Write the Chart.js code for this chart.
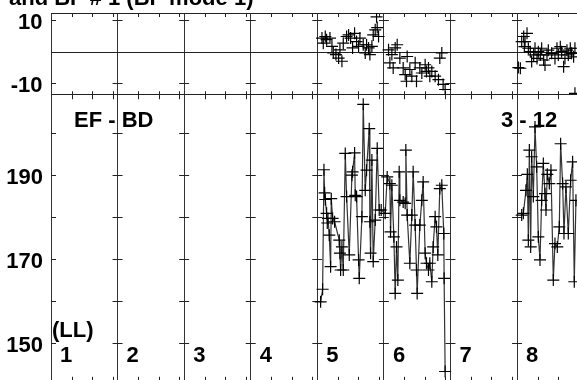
<!DOCTYPE html>
<html lang="en">
<head>
  <meta charset="UTF-8">
  <title>EF - BD</title>
  <script src="https://cdn.jsdelivr.net/npm/chart.js"></script>
  <style>
    html, body { margin: 0; padding: 0; overflow: hidden; background: #fff; }
    #c { display: block; }
  </style>
</head>
<body>
  <canvas id="c" width="600" height="390"></canvas>

  <script>
    // upper panel (scatter only)
    const top5X = [5.07, 5.09, 5.12, 5.14, 5.19, 5.22, 5.24, 5.28, 5.32, 5.34, 5.37, 5.39, 5.44, 5.47, 5.50, 5.53, 5.56, 5.59, 5.62, 5.64, 5.69, 5.69, 5.72, 5.74, 5.77, 5.79, 5.82, 5.84, 5.87, 5.89, 5.90, 5.92];
    const top5Y = [4.3, 2.7, 4.8, 3.8, 4.3, 1.7, -0.4, -0.9, -2.0, 0.6, -3.0, 2.7, 4.8, 5.3, 4.3, 1.2, 5.8, 3.2, 1.7, 4.3, 2.2, -16.3, -0.4, 2.2, 1.2, -0.9, 1.7, 5.3, 6.9, 11.0, 7.6, 4.8];
    const top6X = [6.07, 6.09, 6.12, 6.14, 6.17, 6.20, 6.24, 6.29, 6.32, 6.34, 6.35, 6.39, 6.42, 6.47, 6.49, 6.54, 6.57, 6.62, 6.64, 6.67, 6.69, 6.72, 6.77, 6.82, 6.84, 6.87, 6.89, 6.92];
    const top6Y = [0.6, -3.5, -0.9, -5.1, 1.2, 2.2, -2.0, -5.1, -7.2, -9.3, -1.5, -5.6, -7.7, -3.5, -9.3, -5.1, -6.7, -4.1, -6.2, -5.1, -7.7, -6.2, -7.7, -8.8, -2.0, -0.4, -10.3, -11.9];
    const top8X = [8.02, 8.05, 8.07, 8.10, 8.11, 8.12, 8.15, 8.17, 8.20, 8.22, 8.25, 8.27, 8.30, 8.32, 8.35, 8.37, 8.40, 8.42, 8.45, 8.47, 8.52, 8.57, 8.60, 8.62, 8.65, 8.67, 8.70, 8.72, 8.75, 8.77, 8.80, 8.82, 8.85, 8.87, 8.87];
    const top8Y = [-5.0, -5.2, 3.2, 4.8, 1.6, 3.2, 5.8, 1.1, 0.0, -3.1, -1.0, 1.1, -2.1, 0.0, -1.0, 1.1, -2.6, -4.2, -1.0, 0.5, -0.5, -2.1, 1.1, -1.0, 1.6, 0.0, -4.7, -2.1, 0.5, -1.0, 1.1, -0.5, -1.6, 1.1, -13.1];

    // lower panel (line + crosses)
    const bot56X = [5.05, 5.08, 5.10, 5.11, 5.12, 5.14, 5.15, 5.16, 5.18, 5.20, 5.21, 5.23, 5.26, 5.33, 5.34, 5.35, 5.37, 5.39, 5.42, 5.44, 5.48, 5.52, 5.53, 5.56, 5.57, 5.59, 5.62, 5.63, 5.67, 5.69, 5.72, 5.74, 5.78, 5.79, 5.80, 5.82, 5.84, 5.87, 5.90, 5.93, 5.96,
                    6.02, 6.05, 6.09, 6.10, 6.12, 6.15, 6.17, 6.19, 6.21, 6.23, 6.24, 6.29, 6.32, 6.33, 6.35, 6.39, 6.42, 6.44, 6.47, 6.49, 6.50, 6.54, 6.57, 6.59, 6.62, 6.64, 6.67, 6.69, 6.72, 6.74, 6.77, 6.79, 6.81, 6.84, 6.87, 6.90, 6.905, 6.92];
    const bot56Y = [159.8, 162.8, 191.3, 185.8, 184.2, 180.9, 178.6, 179.7, 175.7, 168.2, 184.4, 179.7, 178.9, 174.5, 171.4, 167.4, 172.9, 167.4, 195.2, 184.9, 171.0, 190.0, 190.8, 195.3, 185.2, 184.9, 169.8, 165.4, 180.1, 206.9, 186.4, 191.2, 201.1, 178.9, 171.4, 193.6, 169.4, 179.3, 196.4, 181.7, 181.7,
                    180.9, 189.6, 188.0, 176.5, 187.6, 175.3, 161.8, 172.9, 165.0, 190.8, 184.0, 183.6, 183.3, 196.0, 180.5, 169.0, 180.5, 190.8, 178.1, 167.4, 161.8, 178.1, 184.0, 188.4, 171.4, 169.0, 167.4, 169.0, 164.6, 172.9, 180.1, 177.7, 171.0, 186.8, 187.6, 176.1, 165.4, 143.2];
    const bot8X = [8.07, 8.095, 8.135, 8.155, 8.17, 8.185, 8.205, 8.22, 8.245, 8.27, 8.295, 8.32, 8.345, 8.37, 8.395, 8.42, 8.435, 8.455, 8.485, 8.51, 8.545, 8.57, 8.605, 8.635, 8.655, 8.685, 8.705, 8.735, 8.77, 8.805, 8.835, 8.86, 8.885];
    const bot8Y = [180.5, 180.9, 186.4, 190.2, 174.5, 196.0, 172.9, 194.4, 184.9, 201.5, 192.0, 175.3, 169.8, 184.0, 192.8, 185.6, 181.7, 190.2, 188.0, 191.2, 165.0, 173.7, 172.9, 177.7, 197.5, 188.0, 176.1, 187.2, 176.1, 188.8, 193.2, 164.6, 184.0];

    const days = [1, 2, 3, 4, 5, 6, 7, 8];
    const dayLabels = ['1', '2', '3', '4', '5', '6', '7', '8'];
    const topTicks = [10, 0, -10];
    const topLabels = [10, -10];
    const botTicks = [200, 190, 180, 170, 160, 150];
    const botLabels = [190, 170, 150];

    const pts = (xs, ys) => xs.map((x, i) => ({ x: x, y: ys[i] }));
    const FONT = 'bold 22px "Liberation Sans", Arial, sans-serif';

    const framePlugin = {
      id: 'frame',
      beforeDatasetsDraw(chart) {
        const { ctx, chartArea: a, scales } = chart;
        const x = scales.x, yt = scales.yTop, yb = scales.yBot;
        const line = (x1, y1, x2, y2) => { ctx.beginPath(); ctx.moveTo(x1, y1); ctx.lineTo(x2, y2); ctx.stroke(); };
        ctx.save();
        ctx.strokeStyle = '#222';
        ctx.lineWidth = 1;
        line(a.left, a.top + 0.5, a.right, a.top + 0.5);
        line(a.left, Math.round(yt.bottom) + 0.5, a.right, Math.round(yt.bottom) + 0.5);
        const z = Math.round(yt.getPixelForValue(0)) + 0.5;
        line(a.left, z, a.right, z);

        // -|- marks on every day line
        days.forEach(d => {
          const px = x.getPixelForValue(d);
          const l = d === 1 ? 0 : 5;
          topTicks.forEach(v => { const py = Math.round(yt.getPixelForValue(v)) + 0.5; line(px - l, py, px + 5, py); });
          botTicks.forEach(v => { const py = Math.round(yb.getPixelForValue(v)) + 0.5; line(px - l, py, px + 5, py); });
          [0.308, 0.616, 0.924].forEach(f => {
            const mx = Math.round(x.getPixelForValue(d + f)) + 0.5;
            line(mx, a.top, mx, a.top + 4);
            line(mx, yt.bottom - 3, mx, yt.bottom + 5);
            line(mx, a.bottom - 6, mx, a.bottom);
          });
        });
        ctx.restore();
      },
      afterDraw(chart) {
        const { ctx, scales } = chart;
        const x = scales.x, yt = scales.yTop, yb = scales.yBot;
        ctx.save();
        ctx.fillStyle = '#000';
        ctx.font = FONT;
        ctx.textBaseline = 'alphabetic';

        ctx.textAlign = 'right';
        topLabels.forEach(v => ctx.fillText(String(v), 42.5, yt.getPixelForValue(v) + 9));
        botLabels.forEach(v => ctx.fillText(String(v), 43, yb.getPixelForValue(v) + 9));

        ctx.textAlign = 'left';
        ctx.fillText('and BF # 1 (BF mode 1)', 9, 5);
        ctx.fillText('EF - BD', 74, 127);
        ctx.fillText('3 - 12', 501, 127);
        ctx.fillText('(LL)', 52, 337);
        days.forEach((d, i) => ctx.fillText(dayLabels[i], x.getPixelForValue(d) + 9, 361.5));
        ctx.restore();
      }
    };

    const crossStyle = { pointStyle: 'cross', pointRadius: 6, pointHoverRadius: 6, pointBorderColor: '#000', pointBorderWidth: 1.2 };

    new Chart(document.getElementById('c').getContext('2d'), {
      type: 'scatter',
      data: {
        datasets: [
          Object.assign({ data: pts(top5X, top5Y), yAxisID: 'yTop', showLine: false }, crossStyle),
          Object.assign({ data: pts(top6X, top6Y), yAxisID: 'yTop', showLine: false }, crossStyle),
          Object.assign({ data: pts(top8X, top8Y), yAxisID: 'yTop', showLine: false }, crossStyle),
          Object.assign({ data: pts(bot56X, bot56Y), yAxisID: 'yBot', showLine: true, borderColor: '#333', borderWidth: 1.2 }, crossStyle),
          Object.assign({ data: pts(bot8X, bot8Y), yAxisID: 'yBot', showLine: true, borderColor: '#333', borderWidth: 1.2 }, crossStyle)
        ]
      },
      options: {
        responsive: false,
        animation: false,
        events: [],
        layout: { padding: { left: 0, top: 13, right: 16.4, bottom: 7 } },
        plugins: { legend: { display: false }, tooltip: { enabled: false } },
        scales: {
          x: {
            type: 'linear', min: 1, max: 9,
            ticks: { display: false, stepSize: 1 },
            grid: { color: '#333', lineWidth: 1, drawTicks: false },
            border: { display: false },
            afterFit: s => { s.height = 0; }
          },
          yTop: {
            position: 'left', stack: 'y', stackWeight: 81.3, weight: 2,
            min: -13.4, max: 12.2,
            ticks: { display: false },
            grid: { display: false },
            border: { display: false },
            afterFit: s => { s.width = 51; }
          },
          yBot: {
            position: 'left', stack: 'y', stackWeight: 288.7, weight: 1,
            min: 140.5, max: 209.3,
            ticks: { display: false },
            grid: { display: false },
            border: { display: false },
            afterFit: s => { s.width = 51; }
          }
        }
      },
      plugins: [framePlugin]
    });
  </script>
</body>
</html>
